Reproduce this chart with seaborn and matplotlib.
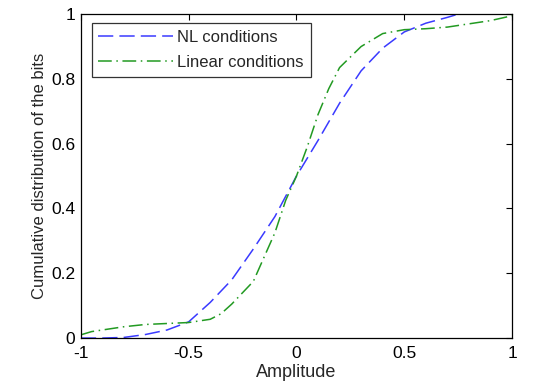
import numpy as np
import pandas as pd
import matplotlib
matplotlib.use("Agg")
import matplotlib.pyplot as plt
import seaborn as sns

# --- Data (CDF curves) ---
nl_amp = [-1.0, -0.9, -0.8, -0.7, -0.6, -0.5, -0.4, -0.3, -0.2, -0.1, 0.0,
          0.1, 0.2, 0.3, 0.4, 0.5, 0.6, 0.7, 0.75, 0.8]
nl_cdf = [0.0, 0.0, 0.002, 0.011, 0.025, 0.05, 0.11, 0.18, 0.275, 0.375, 0.5,
          0.61, 0.725, 0.825, 0.895, 0.945, 0.972, 0.99, 1.0, 1.0]

lin_amp = [-1.0, -0.95, -0.8, -0.7, -0.6, -0.5, -0.4, -0.35, -0.3, -0.2, -0.15,
           -0.1, -0.05, 0.0, 0.05, 0.1, 0.15, 0.2, 0.3, 0.4, 0.5, 0.6,
           0.7, 0.8, 0.9, 1.0]
lin_cdf = [0.01, 0.02, 0.035, 0.042, 0.045, 0.048, 0.058, 0.075, 0.105, 0.175, 0.25,
           0.325, 0.425, 0.5, 0.59, 0.69, 0.77, 0.835, 0.9, 0.94, 0.952, 0.955,
           0.96, 0.97, 0.98, 0.995]

x_ticks = [-1, -0.5, 0, 0.5, 1]
x_tick_labels = ["-1", "-0.5", "0", "0.5", "1"]
y_ticks = [0, 0.2, 0.4, 0.6, 0.8, 1]
y_tick_labels = ["0", "0.2", "0.4", "0.6", "0.8", "1"]

df = pd.concat([
    pd.DataFrame({"amp": nl_amp, "cdf": nl_cdf, "series": "NL conditions"}),
    pd.DataFrame({"amp": lin_amp, "cdf": lin_cdf, "series": "Linear conditions"}),
])

sns.set_style("white")
plt.rcParams["font.family"] = ["Liberation Sans", "DejaVu Sans"]

fig, ax = plt.subplots(figsize=(5.5, 3.82), dpi=100)
fig.subplots_adjust(left=0.147, right=0.931, top=0.963, bottom=0.115)

colors = {"NL conditions": "#3a3aff", "Linear conditions": "#229a22"}
dashes = {"NL conditions": (10, 4), "Linear conditions": (9, 3, 1, 3)}
sns.lineplot(data=df, x="amp", y="cdf", hue="series", style="series",
             palette=colors, dashes=dashes, linewidth=1.1, ax=ax, sort=False)

ax.set_xlim(-1, 1)
ax.set_ylim(0, 1)
ax.set_xticks(x_ticks)
ax.set_xticklabels(x_tick_labels)
ax.set_yticks(y_ticks)
ax.set_yticklabels(y_tick_labels)
ax.tick_params(direction="in", length=4, width=0.8, top=True, right=True,
               labelsize=12.5, colors="black")
ax.tick_params(axis="x", pad=6)
ax.tick_params(axis="y", pad=4)
for s in ax.spines.values():
    s.set_color("black")
    s.set_linewidth(0.9)

ax.set_xlabel("Amplitude", fontsize=13, labelpad=2)
ax.set_ylabel("Cumulative distribution of the bits", fontsize=12, labelpad=3)

leg = ax.legend(loc="upper left", bbox_to_anchor=(0.025, 0.972), fontsize=12,
                frameon=True, fancybox=False, handlelength=4.5,
                handletextpad=0.25, borderpad=0.4, labelspacing=0.6,
                borderaxespad=0)
leg.get_frame().set_edgecolor("black")
leg.get_frame().set_linewidth(0.9)

fig.savefig("out.png", dpi=100)
